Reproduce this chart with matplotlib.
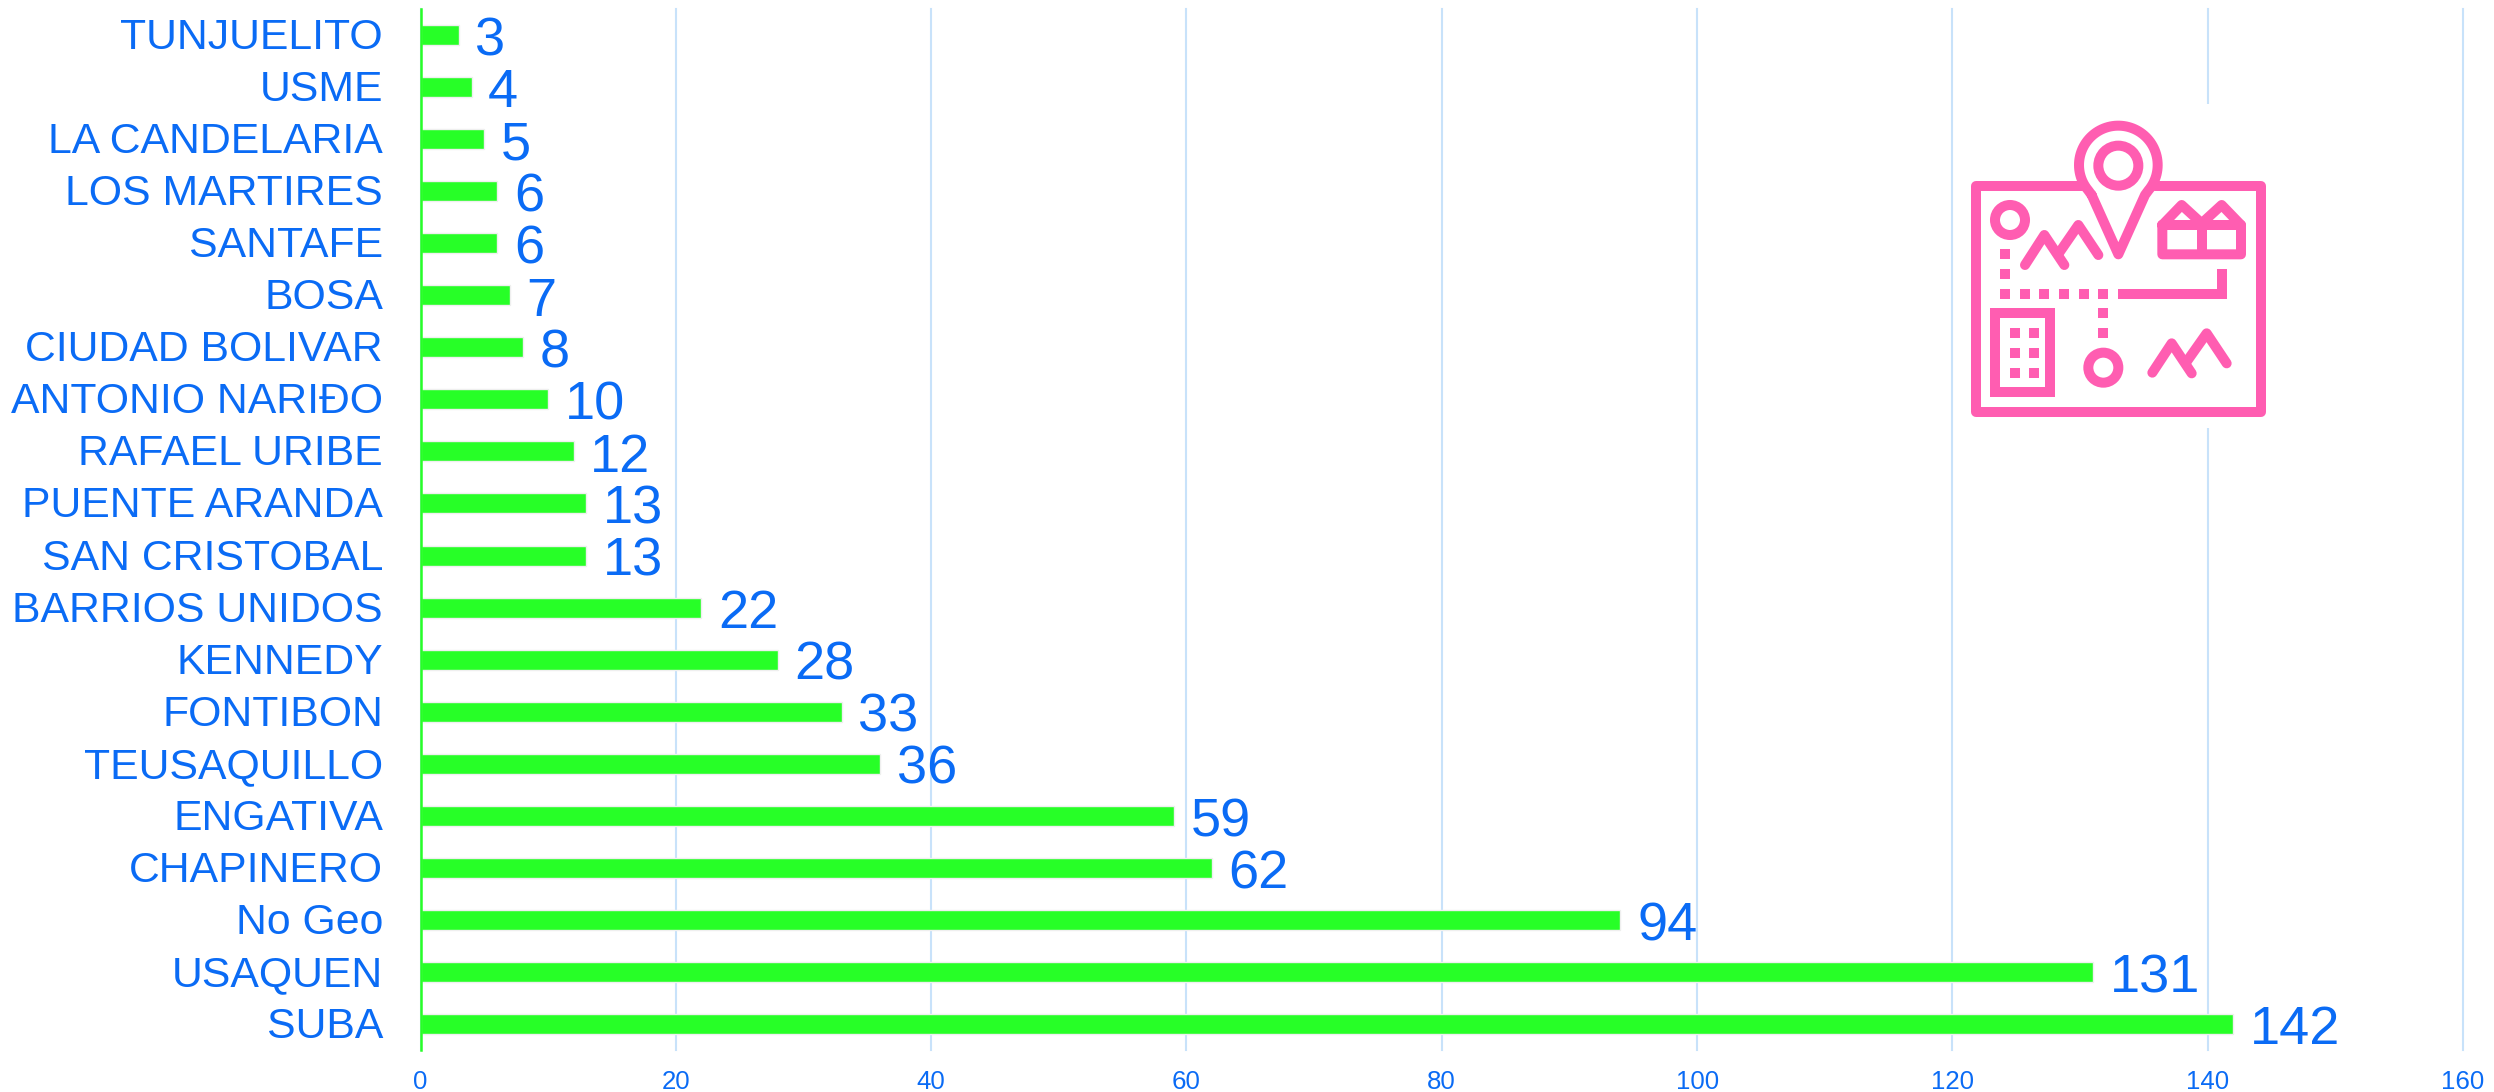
import numpy as np
import matplotlib
matplotlib.use('Agg')
import matplotlib.pyplot as plt
from matplotlib.patches import Circle, Rectangle
from matplotlib.transforms import ScaledTranslation

localidades = ['SUBA', 'USAQUEN', 'No Geo', 'CHAPINERO', 'ENGATIVA', 'TEUSAQUILLO',
               'FONTIBON', 'KENNEDY', 'BARRIOS UNIDOS', 'SAN CRISTOBAL',
               'PUENTE ARANDA', 'RAFAEL URIBE', 'ANTONIO NARIÐO', 'CIUDAD BOLIVAR',
               'BOSA', 'SANTAFE', 'LOS MARTIRES', 'LA CANDELARIA', 'USME', 'TUNJUELITO']
valores = [142, 131, 94, 62, 59, 36, 33, 28, 22, 13, 13, 12, 10, 8, 7, 6, 6, 5, 4, 3]
ticks_x = [0, 20, 40, 60, 80, 100, 120, 140, 160]

AZUL = '#0A6BF5'
VERDE = '#27FF27'
ROSA = '#FF5DB1'
GRID = '#C8E2FA'
W, H = 2494, 1092

plt.rcParams['font.family'] = ['Liberation Sans', 'DejaVu Sans']

fig = plt.figure(figsize=(W / 100, H / 100), dpi=100)
ax = fig.add_axes([420.5 / W, 1 - 1050 / H, (2463 - 420.5) / W, (1050 - 9) / H])

y = np.arange(len(localidades))
ax.barh(y, valores, height=0.385, color=VERDE, edgecolor='#EFEFEF', linewidth=1.0, zorder=3)

for i, v in zip(y, valores):
    ax.annotate(str(v), (v, i), xytext=(12, -4.5), textcoords='offset points',
                va='center', ha='left', fontsize=39, color=AZUL)

ax.set_xlim(0, 160)
ax.set_ylim(-0.5, len(localidades) - 0.5)
ax.set_xticks(ticks_x)
ax.set_yticks(y)
ax.set_yticklabels(localidades)
ax.tick_params(axis='y', length=0, pad=27, labelsize=30.8, labelcolor=AZUL)
ax.tick_params(axis='x', length=0, pad=14.5, labelsize=18.6, labelcolor=AZUL)

# sube un poco las etiquetas de las localidades
sube = ScaledTranslation(0, 1.5 / 100, fig.dpi_scale_trans)
for lab in ax.get_yticklabels():
    lab.set_transform(lab.get_transform() + sube)

ax.grid(axis='x', color=GRID, linewidth=1.5, zorder=0)
ax.set_axisbelow(True)
for g in ax.get_xgridlines():
    g.set_clip_on(False)

for s in ['top', 'right', 'bottom']:
    ax.spines[s].set_visible(False)
ax.spines['left'].set_color(VERDE)
ax.spines['left'].set_linewidth(1.8)
ax.spines['left'].set_zorder(4)

######################## icono del mapa ########################
# ejes encima de la grafica, en pixeles del recorte del icono
ic = fig.add_axes([1950 / W, 1 - 440 / H, 340 / W, 340 / H], zorder=5)
ic.set_xlim(0, 1020)
ic.set_ylim(1020, 0)
ic.axis('off')
ic.add_patch(Rectangle((40, 12), 960, 972, facecolor='white', edgecolor='none'))

LW = 7.2


def traza(xs, ys, cap='round', join='round'):
    ic.plot(xs, ys, color=ROSA, linewidth=LW, solid_capstyle=cap, solid_joinstyle=join)


def aro(cx, cy, r):
    ic.add_patch(Circle((cx, cy), r, facecolor='none', edgecolor=ROSA, linewidth=LW))


def cuadro(cx, cy):
    ic.add_patch(Rectangle((cx - 15, cy - 15), 30, 30, facecolor=ROSA, edgecolor='none'))


# marco
traza([395, 77, 77, 932, 932, 615], [257, 257, 935, 935, 257, 257])
# pin
t = np.radians(np.linspace(220, -40, 80))
px = 505 + 118 * np.cos(t)
py = 195 - 118 * np.sin(t)
traza(np.r_[425, px, 585, 505, 425], np.r_[285, py, 285, 463, 285])
aro(505, 197, 60)
aro(180, 360, 45)
aro(460, 803, 45)
# montanas
traza([225, 283, 343], [495, 405, 495])
traza([325, 385, 445], [462, 375, 465])
traza([607, 665, 725], [818, 730, 820])
traza([710, 770, 830], [785, 700, 790])
# casas
traza([637, 695, 755, 815, 873, 873, 637, 637], [375, 315, 370, 315, 375, 463, 463, 375])
traza([637, 873], [375, 375])
traza([755, 755], [375, 463])
# camino
for cx, cy in [(165, 463), (165, 522), (165, 581), (224, 581), (283, 581), (342, 581),
               (401, 581), (460, 581), (460, 640), (460, 700)]:
    cuadro(cx, cy)
traza([505, 815, 815], [581, 581, 508], cap='butt', join='miter')
# edificio
traza([135, 299, 299, 135, 135], [640, 640, 877, 877, 625], cap='butt', join='miter')
for cx in [194, 253]:
    for cy in [700, 759, 818]:
        cuadro(cx, cy)

fig.savefig('out.png', dpi=100)
